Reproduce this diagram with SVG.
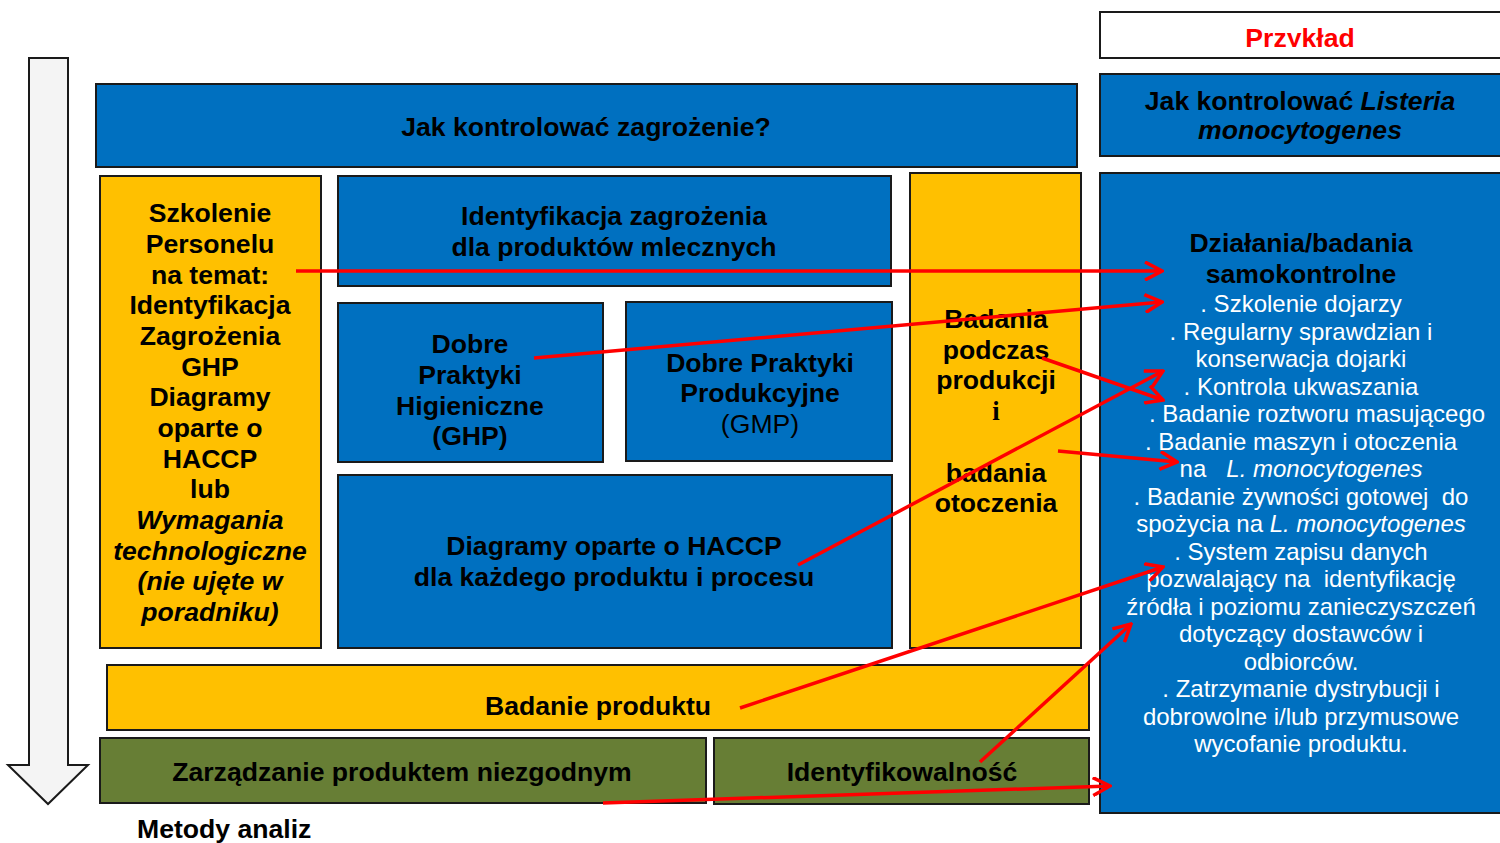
<svg xmlns="http://www.w3.org/2000/svg" width="1500" height="843" viewBox="0 0 1500 843">
<defs>
<style>
.blue{fill:#0070C0;stroke:#1a1a1a;stroke-width:2}
.yel{fill:#FFC000;stroke:#1a1a1a;stroke-width:2}
.grn{fill:#677E35;stroke:#1a1a1a;stroke-width:2}
.wht{fill:#ffffff;stroke:#1a1a1a;stroke-width:2}
text{font-family:"Liberation Sans",Arial,sans-serif;text-anchor:middle;white-space:pre}
.b{font-weight:bold;font-size:26.6px;fill:#000}
.n{font-size:26.6px;fill:#000}
.w{font-size:24px;fill:#fff}
.conn{stroke:#FF0000;stroke-width:3.5;fill:none;marker-end:url(#ah)}
</style>
<marker id="ah" viewBox="0 0 20 20" refX="18" refY="10" markerWidth="20" markerHeight="20" markerUnits="userSpaceOnUse" orient="auto">
<path d="M1,1 L18,10 L1,19" fill="none" stroke="#FF0000" stroke-width="3.5"/>
</marker>
<clipPath id="clipP"><rect x="1100" y="12" width="400" height="35"/></clipPath>
</defs>

<g id="flow-arrow">
<path d="M29,58 L68,58 L68,765 L88,765 L48,804 L8,765 L29,765 Z" fill="#F4F4F4" stroke="#1a1a1a" stroke-width="2"/>
</g>

<g id="title">
<rect class="blue" x="96" y="84" width="981" height="83"/>
<text class="b" x="586" y="136">Jak kontrolować zagrożenie?</text>
</g>

<g id="przyklad">
<rect class="wht" x="1100" y="12" width="410" height="46"/>
<text class="b" x="1300" y="47" style="fill:#FF0000" clip-path="url(#clipP)">Przykład</text>
</g>

<g id="listeria">
<rect class="blue" x="1100" y="74" width="410" height="82"/>
<text class="b" x="1300" y="110">Jak kontrolować <tspan font-style="italic">Listeria</tspan></text>
<text class="b" x="1300" y="139" font-style="italic">monocytogenes</text>
</g>

<g id="dzialania">
<rect class="blue" x="1100" y="173" width="410" height="640"/>
<text class="b" x="1301" y="252">Działania/badania</text>
<text class="b" x="1301" y="283">samokontrolne</text>
<text class="w" x="1301" y="312">. Szkolenie dojarzy</text>
<text class="w" x="1301" y="339.5">. Regularny sprawdzian i</text>
<text class="w" x="1301" y="367">konserwacja dojarki</text>
<text class="w" x="1301" y="394.5">. Kontrola ukwaszania</text>
<text class="w" x="1317" y="422">. Badanie roztworu masującego</text>
<text class="w" x="1301" y="449.5">. Badanie maszyn i otoczenia</text>
<text class="w" x="1301" y="477">na   <tspan font-style="italic">L. monocytogenes</tspan></text>
<text class="w" x="1301" y="504.5">. Badanie żywności gotowej  do</text>
<text class="w" x="1301" y="532">spożycia na <tspan font-style="italic">L. monocytogenes</tspan></text>
<text class="w" x="1301" y="559.5">. System zapisu danych</text>
<text class="w" x="1301" y="587">pozwalający na  identyfikację</text>
<text class="w" x="1301" y="614.5">źródła i poziomu zanieczyszczeń</text>
<text class="w" x="1301" y="642">dotyczący dostawców i</text>
<text class="w" x="1301" y="669.5">odbiorców.</text>
<text class="w" x="1301" y="697">. Zatrzymanie dystrybucji i</text>
<text class="w" x="1301" y="724.5">dobrowolne i/lub przymusowe</text>
<text class="w" x="1301" y="752">wycofanie produktu.</text>
</g>

<g id="szkolenie">
<rect class="yel" x="100" y="176" width="221" height="472"/>
<text class="b" x="210" y="222">Szkolenie</text>
<text class="b" x="210" y="253">Personelu</text>
<text class="b" x="210" y="283.5">na temat:</text>
<text class="b" x="210" y="314">Identyfikacja</text>
<text class="b" x="210" y="345">Zagrożenia</text>
<text class="b" x="210" y="375.5">GHP</text>
<text class="b" x="210" y="406">Diagramy</text>
<text class="b" x="210" y="437">oparte o</text>
<text class="b" x="210" y="467.5">HACCP</text>
<text class="b" x="210" y="498">lub</text>
<text class="b" x="210" y="529" font-style="italic">Wymagania</text>
<text class="b" x="210" y="559.5" font-style="italic">technologiczne</text>
<text class="b" x="210" y="590" font-style="italic">(nie ujęte w</text>
<text class="b" x="210" y="621" font-style="italic">poradniku)</text>
</g>

<g id="identyfikacja">
<rect class="blue" x="338" y="176" width="553" height="110"/>
<text class="b" x="614" y="225">Identyfikacja zagrożenia</text>
<text class="b" x="614" y="256">dla produktów mlecznych</text>
</g>

<g id="ghp">
<rect class="blue" x="338" y="303" width="265" height="159"/>
<text class="b" x="470" y="353">Dobre</text>
<text class="b" x="470" y="384">Praktyki</text>
<text class="b" x="470" y="414.5">Higieniczne</text>
<text class="b" x="470" y="445">(GHP)</text>
</g>

<g id="gmp">
<rect class="blue" x="626" y="302" width="266" height="159"/>
<text class="b" x="760" y="371.5">Dobre Praktyki</text>
<text class="b" x="760" y="402">Produkcyjne</text>
<text class="n" x="760" y="433">(GMP)</text>
</g>

<g id="haccp">
<rect class="blue" x="338" y="475" width="554" height="173"/>
<text class="b" x="614" y="555">Diagramy oparte o HACCP</text>
<text class="b" x="614" y="586">dla każdego produktu i procesu</text>
</g>

<g id="badania-produkcji">
<rect class="yel" x="910" y="173" width="171" height="475"/>
<text class="b" x="996" y="328">Badania</text>
<text class="b" x="996" y="358.5">podczas</text>
<text class="b" x="996" y="389">produkcji</text>
<text class="b" x="996" y="420" style="font-family:'Liberation Serif','Times New Roman',serif">i</text>
<text class="b" x="996" y="481.5">badania</text>
<text class="b" x="996" y="512">otoczenia</text>
</g>

<g id="badanie-produktu">
<rect class="yel" x="107" y="665" width="982" height="65"/>
<text class="b" x="598" y="715">Badanie produktu</text>
</g>

<g id="zarzadzanie">
<rect class="grn" x="100" y="738" width="606" height="65"/>
<text class="b" x="402" y="781">Zarządzanie produktem niezgodnym</text>
</g>

<g id="identyfikowalnosc">
<rect class="grn" x="714" y="738" width="375" height="66"/>
<text class="b" x="902" y="781">Identyfikowalność</text>
</g>

<g id="metody">
<text class="b" x="137" y="838" style="text-anchor:start">Metody analiz</text>
</g>

<g id="connectors">
<line class="conn" x1="296" y1="271" x2="1162" y2="271"/>
<line class="conn" x1="534" y1="358" x2="1162" y2="302"/>
<line class="conn" x1="1042" y1="358" x2="1163" y2="400"/>
<line class="conn" x1="798" y1="565" x2="1163" y2="371"/>
<line class="conn" x1="1058" y1="451" x2="1177" y2="462"/>
<line class="conn" x1="740" y1="708" x2="1163" y2="567"/>
<line class="conn" x1="980" y1="762" x2="1131" y2="624"/>
<line class="conn" x1="603" y1="803" x2="1110" y2="786"/>
</g>
</svg>
